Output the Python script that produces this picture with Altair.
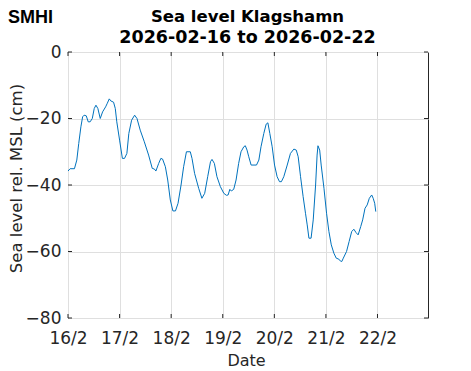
import altair as alt
import pandas as pd

# ---- data ----
hours = [0, 1.0, 3.0, 4.1, 5.0, 6.0, 6.8, 7.5, 8.5, 9.4, 10.3, 11.3, 12.2, 13.0, 13.9, 15.0,
         16.1, 17.5, 18.3, 19.2, 19.9, 21.2, 22.0, 22.7, 24.0, 25.3, 26.3, 27.4, 28.3, 29.6,
         31.0, 32.1, 33.6, 35.5, 37.5, 39.2, 40.2, 40.9, 42.2, 43.2, 44.0, 45.3, 46.4, 47.6,
         48.8, 50.0, 51.2, 52.6, 53.8, 55.1, 56.9, 57.7, 58.9, 60.8, 62.3, 63.6, 65.0, 66.3,
         67.0, 68.1, 69.3, 70.9, 72.5, 73.7, 74.5, 75.3, 76.0, 77.1, 78.2, 79.4, 80.5, 81.8,
         82.5, 83.3, 84.1, 85.2, 87.7, 88.8, 89.8, 91.1, 92.2, 93.0, 93.9, 95.0, 96.1, 97.3,
         98.4, 99.3, 100.4, 102.0, 103.5, 105.1, 106.2, 107.1, 108.2, 109.4, 110.5, 111.3,
         112.1, 113.1, 114.1, 115.2, 115.9, 116.3, 117.1, 117.8, 119.1, 120.3, 121.4, 122.5,
         123.7, 124.8, 126.0, 126.8, 127.4, 128.1, 129.6, 130.8, 132.0, 133.0, 134.0, 135.0,
         136.2, 137.1, 138.2, 139.2, 140.2, 141.3, 142.0, 142.7, 143.2]
level_cm = [-35.8, -35.1, -35.1, -32.5, -27.5, -22.5, -19.5, -19.0, -19.2, -21.0, -21.0, -20.0,
            -17.0, -16.0, -17.0, -20.0, -18.0, -16.5, -15.4, -14.1, -14.7, -15.1, -17.0, -21.0,
            -26.5, -32.0, -32.0, -30.5, -24.5, -20.5, -19.0, -20.0, -23.5, -27.0, -31.0, -35.0,
            -35.2, -35.8, -33.5, -32.0, -32.2, -34.5, -38.5, -44.5, -47.8, -47.8, -45.5, -40.0,
            -34.5, -30.0, -30.0, -32.0, -36.5, -41.0, -44.0, -42.5, -37.5, -33.0, -32.3, -33.5,
            -37.5, -40.5, -42.5, -43.1, -43.0, -41.3, -41.8, -41.3, -38.5, -33.5, -30.0, -28.5,
            -28.2, -29.5, -31.5, -34.0, -34.0, -32.5, -28.5, -24.5, -21.7, -21.3, -24.5, -28.5,
            -34.0, -37.5, -39.0, -39.0, -37.5, -34.0, -30.5, -29.2, -29.5, -31.5, -37.5, -43.5,
            -48.5, -52.0, -56.0, -56.0, -50.5, -40.0, -31.0, -28.2, -29.5, -34.0, -41.0, -48.5,
            -54.0, -58.0, -60.5, -62.0, -62.3, -62.9, -63.0, -62.0, -60.0, -57.0, -54.0, -53.3,
            -54.3, -55.0, -52.5, -50.5, -47.0, -46.0, -44.0, -43.0, -44.0, -45.5, -48.0]
x_tick_days = ["2026-02-16", "2026-02-17", "2026-02-18", "2026-02-19",
               "2026-02-20", "2026-02-21", "2026-02-22"]
y_ticks = [-80, -60, -40, -20, 0]
title_lines = ["Sea level Klagshamn", "2026-02-16 to 2026-02-22"]

start = pd.Timestamp("2026-02-16T00:00:00")
times = [(start + pd.Timedelta(hours=h)).strftime("%Y-%m-%dT%H:%M:%SZ") for h in hours]
df = pd.DataFrame({"time": times, "level": level_cm})
xt = pd.DataFrame({"time": [d + "T00:00:00Z" for d in x_tick_days]})
yt = pd.DataFrame({"level": y_ticks})

W, H = 360, 266
DARK = "#262626"
FONT = "DejaVu Sans"

x_scale = alt.Scale(type="utc", domain=[
    alt.DateTime(year=2026, month=2, date=16, utc=True),
    alt.DateTime(year=2026, month=2, date=22, hours=23, minutes=30, utc=True)])
y_scale = alt.Scale(domain=[-80, 0], nice=False, zero=False)

x_axis = alt.Axis(
    values=[alt.DateTime(year=2026, month=2, date=d, utc=True) for d in range(16, 23)],
    labelExpr="utcFormat(datum.value, '%-d/%-m')",
    title="Date", titleX=178, titleY=47, titleBaseline="alphabetic", titleAlign="center",
    labelPadding=12, labelBaseline="top", labelAlign="center", labelFlush=False,
    labelOverlap=False)
y_axis = alt.Axis(
    values=y_ticks, title="Sea level rel. MSL (cm)", titleAngle=-90,
    titleX=-47, titleY=126, titleBaseline="alphabetic", titleAlign="center",
    titleFontSize=16.5, labelPadding=7)

X = alt.X("time:T", scale=x_scale, axis=x_axis)
Y = alt.Y("level:Q", scale=y_scale, axis=y_axis)

line = alt.Chart(df).mark_line(color="#0072BD", strokeWidth=1).encode(x=X, y=Y)

tick_b = alt.Chart(xt).mark_rule(color=DARK, strokeWidth=1).encode(
    x=X, y=alt.value(H), y2=alt.value(H - 4))
tick_t = alt.Chart(xt).mark_rule(color=DARK, strokeWidth=1).encode(
    x=X, y=alt.value(0), y2=alt.value(4))
tick_l = alt.Chart(yt).mark_rule(color=DARK, strokeWidth=1).encode(
    y=Y, x=alt.value(0), x2=alt.value(4))
tick_r = alt.Chart(yt).mark_rule(color=DARK, strokeWidth=1).encode(
    y=Y, x=alt.value(W), x2=alt.value(W - 4))

title1 = alt.Chart(pd.DataFrame({"t": [title_lines[0]]})).mark_text(
    font=FONT, fontWeight="bold", fontSize=16.5, align="center", baseline="alphabetic",
    color="black").encode(text="t:N", x=alt.value(W / 2 - 0.5), y=alt.value(-30))
title2 = alt.Chart(pd.DataFrame({"t": [title_lines[1]]})).mark_text(
    font=FONT, fontWeight="bold", fontSize=17.5, align="center", baseline="alphabetic",
    color="black").encode(text="t:N", x=alt.value(W / 2 - 0.5), y=alt.value(-9))

logo = alt.Chart(pd.DataFrame({"t": ["SMHI"]})).mark_text(
    font="Liberation Sans", fontWeight="bold", fontSize=18, align="left",
    baseline="alphabetic", color="black").encode(
    text="t:N", x=alt.value(-60), y=alt.value(-29))

chart = alt.layer(line, tick_b, tick_t, tick_l, tick_r, title1, title2, logo).properties(
    width=W, height=H,
    autosize=alt.AutoSizeParams(type="none"),
    padding={"left": 60, "top": 44, "right": 35, "bottom": 55},
).configure_view(stroke=DARK, strokeWidth=1).configure_axis(
    domain=False, ticks=False, grid=True, gridColor="#dfdfdf", gridWidth=1,
    labelFont=FONT, labelFontSize=17, labelColor=DARK,
    titleFont=FONT, titleFontSize=16, titleFontWeight="normal", titleColor=DARK)

chart.save("out.html", embed_options={"renderer": "svg", "actions": False})
